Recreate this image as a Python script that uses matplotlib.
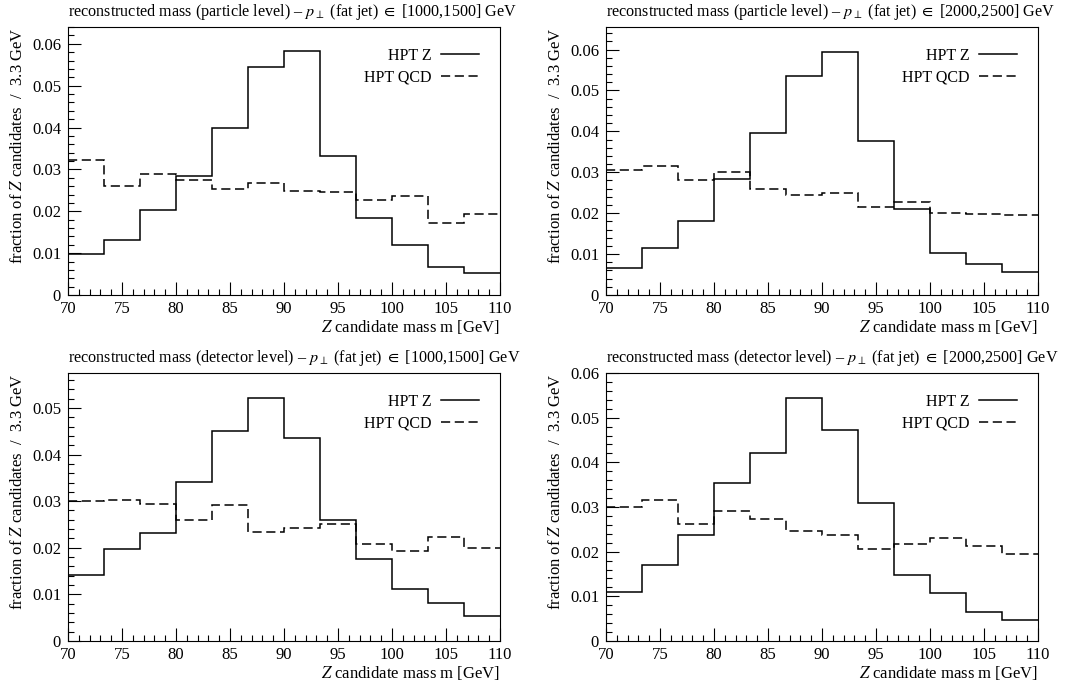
import numpy as np
import matplotlib
matplotlib.use("Agg")
import matplotlib.pyplot as plt
from matplotlib.ticker import MultipleLocator, FuncFormatter

plt.rcParams['font.family'] = ['Liberation Serif', 'DejaVu Serif']
plt.rcParams['mathtext.fontset'] = 'stix'

edges = np.linspace(70, 110, 13)

titles = [
    r"reconstructed mass (particle level) – $p_{\perp}$ (fat jet) $\in$ [1000,1500] GeV",
    r"reconstructed mass (particle level) – $p_{\perp}$ (fat jet) $\in$ [2000,2500] GeV",
    r"reconstructed mass (detector level) – $p_{\perp}$ (fat jet) $\in$ [1000,1500] GeV",
    r"reconstructed mass (detector level) – $p_{\perp}$ (fat jet) $\in$ [2000,2500] GeV",
]

z_particle_1000 = [0.0097, 0.0132, 0.0202, 0.0284, 0.0400, 0.0545, 0.0582, 0.0333, 0.0183, 0.0120, 0.0066, 0.0053]
qcd_particle_1000 = [0.0322, 0.0261, 0.0290, 0.0274, 0.0252, 0.0268, 0.0249, 0.0247, 0.0228, 0.0237, 0.0173, 0.0194]

z_particle_2000 = [0.0065, 0.0114, 0.0182, 0.0284, 0.0397, 0.0535, 0.0595, 0.0377, 0.0211, 0.0102, 0.0075, 0.0055]
qcd_particle_2000 = [0.0306, 0.0316, 0.0281, 0.0301, 0.0259, 0.0245, 0.0249, 0.0214, 0.0227, 0.0201, 0.0198, 0.0196]

z_detector_1000 = [0.0141, 0.0198, 0.0231, 0.0342, 0.0450, 0.0522, 0.0436, 0.0259, 0.0175, 0.0112, 0.0082, 0.0053]
qcd_detector_1000 = [0.0301, 0.0302, 0.0294, 0.0260, 0.0292, 0.0233, 0.0243, 0.0252, 0.0208, 0.0194, 0.0223, 0.0199]

z_detector_2000 = [0.0109, 0.0170, 0.0238, 0.0353, 0.0421, 0.0545, 0.0472, 0.0308, 0.0147, 0.0107, 0.0066, 0.0047]
qcd_detector_2000 = [0.0300, 0.0316, 0.0262, 0.0291, 0.0273, 0.0247, 0.0238, 0.0206, 0.0217, 0.0230, 0.0212, 0.0194]

z_series = [z_particle_1000, z_particle_2000, z_detector_1000, z_detector_2000]
qcd_series = [qcd_particle_1000, qcd_particle_2000, qcd_detector_1000, qcd_detector_2000]
ytops = [0.064, 0.0655, 0.0575, 0.060]

W, H = 1076, 685
fig = plt.figure(figsize=(W / 100, H / 100), dpi=100)

# axes boxes in pixels: left, right, top, bottom
boxes = [(68, 500, 27, 295), (606, 1038, 27, 295), (68, 500, 373, 641), (606, 1038, 373, 641)]

def fmt(v, pos):
    if abs(v) < 1e-9:
        return "0"
    return f"{v:.2f}"

for i, (l, r, t, b) in enumerate(boxes):
    ax = fig.add_axes([l / W, 1 - b / H, (r - l) / W, (b - t) / H])
    ax.stairs(z_series[i], edges, color='black', lw=1.1, baseline=None, label='HPT Z')
    ax.stairs(qcd_series[i], edges, color='black', lw=1.1, ls=(0, (6, 3)), baseline=None, label='HPT QCD')
    ax.set_xlim(70, 110)
    ax.set_ylim(0, ytops[i])
    ax.xaxis.set_major_locator(MultipleLocator(5))
    ax.xaxis.set_minor_locator(MultipleLocator(1))
    ax.yaxis.set_major_locator(MultipleLocator(0.01))
    ax.yaxis.set_minor_locator(MultipleLocator(0.002))
    ax.yaxis.set_major_formatter(FuncFormatter(fmt))
    ax.tick_params(which='both', direction='in', top=False, right=False, labelsize=12)
    ax.tick_params(which='major', length=9.5, width=0.8)
    ax.tick_params(which='minor', length=4.5, width=0.8)
    ax.tick_params(axis='x', pad=4)
    ax.tick_params(axis='y', pad=5)
    for s in ax.spines.values():
        s.set_linewidth(0.8)
    ax.set_title(titles[i], loc='left', fontsize=11.6, pad=8)
    ax.set_xlabel(r"$Z$ candidate mass m [GeV]", fontsize=12, loc='right', labelpad=1)
    ax.set_ylabel(r"fraction of $Z$ candidates  /  3.3 GeV", fontsize=12, loc='top', labelpad=4)
    ax.legend(loc='upper right', frameon=False, markerfirst=False, fontsize=11.5,
              handlelength=2.4, handletextpad=0.6, labelspacing=0.35,
              bbox_to_anchor=(0.985, 0.975))

fig.savefig("out.png", dpi=100)
